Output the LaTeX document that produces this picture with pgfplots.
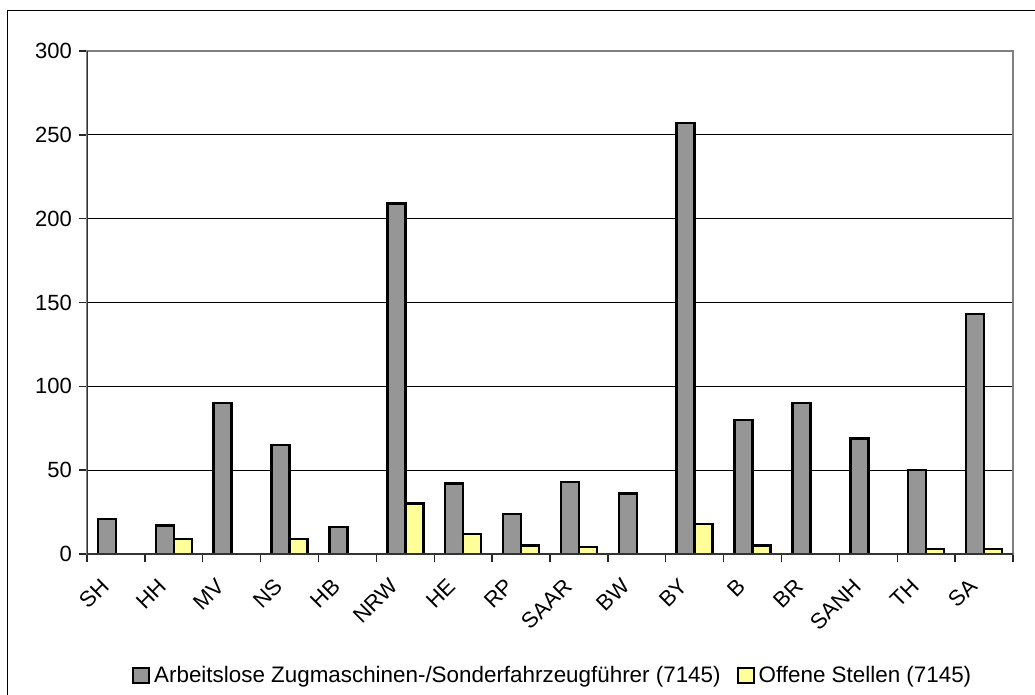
\documentclass[border=0pt]{standalone}
\usepackage{fontspec}
\setmainfont{Liberation Sans}
\usepackage{pgfplots}
\pgfplotsset{compat=1.18}
\definecolor{bargray}{HTML}{969696}
\definecolor{baryellow}{HTML}{FFFF99}
\definecolor{framegray}{HTML}{808080}

% one pixel of the reference = 0.5pt
\begin{document}
\begin{tikzpicture}
\useasboundingbox (0,0) rectangle (517.5pt,-347.5pt);
\draw[black, line width=0.75pt] (3.75pt,-400pt) -- (3.75pt,-5.25pt) -- (600pt,-5.25pt);
\begin{axis}[
    at={(43.5pt,-277pt)}, anchor=south west,
    scale only axis, width=463pt, height=251.5pt,
    ybar=0pt, bar width=9pt,
    xmin=-0.5, xmax=15.5, ymin=0, ymax=300,
    % names under the bar pairs, tick marks between the Laender
    xtick={0,...,15},
    xticklabels={SH,HH,MV,NS,HB,NRW,HE,RP,SAAR,BW,BY,B,BR,SANH,TH,SA},
    minor xtick={-0.5,0.5,...,15.5},
    major x tick style={/pgfplots/major tick length=0pt},
    minor x tick style={/pgfplots/minor tick length=4pt},
    xtick pos=bottom, ytick pos=left,
    ytick={0,50,...,300},
    tick align=outside, major tick length=4pt,
    tick style={black!85, line width=0.7pt},
    ymajorgrids, grid style={black, line width=0.5pt},
    axis line style={framegray, line width=0.9pt},
    ticklabel style={font=\fontsize{11}{13}\selectfont},
    /pgf/number format/assume math mode=true,
    xticklabel style={rotate=45, anchor=north east, xshift=-7.7pt, yshift=4pt},
    legend style={at={(0.504,-0.2425)}, anchor=center, draw=none,
        font=\fontsize{11.2}{13}\selectfont, legend columns=2,
        /tikz/every even column/.append style={column sep=6pt}},
    legend image code/.code={\draw[#1, line width=1pt] (0pt,-3.75pt) rectangle (8pt,3.75pt);},
]
\addplot[fill=bargray, draw=black, line width=1.2pt] coordinates {
    (0,21) (1,17) (2,90) (3,65) (4,16) (5,209) (6,42) (7,24)
    (8,43) (9,36) (10,257) (11,80) (12,90) (13,69) (14,50) (15,143)};
\addplot[fill=baryellow, draw=black, line width=1.2pt] coordinates {
    (0,0) (1,9) (2,0) (3,9) (4,0) (5,30) (6,12) (7,5)
    (8,4) (9,0) (10,18) (11,5) (12,0) (13,0) (14,3) (15,3)};
\legend{Arbeitslose Zugmaschinen-/Sonderfahrzeugführer (7145), Offene Stellen (7145)}
\draw[black!80, line width=0.9pt] (rel axis cs:0,0) -- (rel axis cs:0,1);
\draw[black!80, line width=0.9pt] (rel axis cs:0,0) -- (rel axis cs:1,0);
\end{axis}
\end{tikzpicture}
\end{document}
